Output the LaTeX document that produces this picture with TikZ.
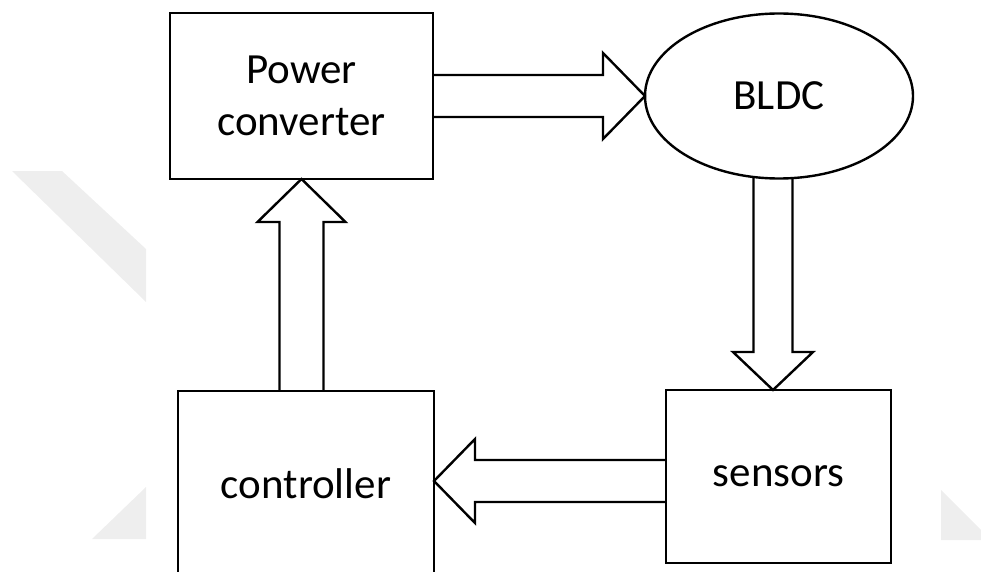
\documentclass[tikz,border=0pt]{standalone}
\usepackage{fontspec}
\setmainfont{Carlito}
\usetikzlibrary{shapes.geometric,calc}
\definecolor{wmgray}{HTML}{EEEEEE}
\begin{document}
\begin{tikzpicture}[x=1pt,y=-1pt,
  lbl/.style={font=\fontsize{43}{52}\selectfont},
  box/.style={draw,line width=2.6pt,rectangle,inner sep=0pt,outer sep=0pt,align=center,lbl},
  oval/.style={draw,line width=2.4pt,ellipse,inner sep=0pt,outer sep=0pt,lbl},
  blockarrow/.style={draw,line width=2.4pt,line join=miter},
  wm/.style={fill=wmgray,draw=none}]
\useasboundingbox (0,0) rectangle (981,572);
\clip (0,0) rectangle (981,572);
% faint watermark
\fill[wm] (12,171) -- (62,171) -- (146,249) -- (146,302) -- cycle;
\fill[wm] (92,539) -- (146,487) -- (146,539) -- cycle;
\fill[wm] (941,490) -- (981,530) -- (981,540) -- (941,540) -- cycle;
% nodes
\node[box,minimum width=263pt,minimum height=166pt] (pc) at (301.5,96) {Power\\converter};
\node[oval,minimum width=268pt,minimum height=165pt] (bldc) at (779,96) {BLDC};
\node[box,minimum width=256pt,minimum height=186pt] (ctrl) at (306,484) {controller};
\node[box,minimum width=225pt,minimum height=173pt] (sens) at (778.5,476.5) {sensors};
% power converter -> BLDC
\draw[blockarrow] ($(pc.east)+(0,-21)$) -- ($(bldc.west)+(-42,-21)$) -- ($(bldc.west)+(-42,-43)$)
  -- (bldc.west) -- ($(bldc.west)+(-42,43)$) -- ($(bldc.west)+(-42,21)$) -- ($(pc.east)+(0,21)$);
% BLDC -> sensors
\coordinate (dtip) at ($(sens.north)+(-5.5,0)$);
\coordinate (dtop) at ($(bldc.south -| dtip)+(0,-1)$);
\draw[blockarrow] ($(dtop)+(-19.5,0)$) -- ($(dtip)+(-19.5,-38)$) -- ($(dtip)+(-40,-38)$)
  -- (dtip) -- ($(dtip)+(40,-38)$) -- ($(dtip)+(19.5,-38)$) -- ($(dtop)+(19.5,0)$);
% sensors -> controller
\coordinate (ltip) at ($(ctrl.east)+(0,-3)$);
\draw[blockarrow] ($(sens.west |- ltip)+(0,-21)$) -- ($(ltip)+(41,-21)$) -- ($(ltip)+(41,-42)$)
  -- (ltip) -- ($(ltip)+(41,42)$) -- ($(ltip)+(41,21)$) -- ($(sens.west |- ltip)+(0,21)$);
% controller -> power converter
\coordinate (utip) at (pc.south);
\draw[blockarrow] ($(ctrl.north -| utip)+(-22,0)$) -- ($(utip)+(-22,43)$) -- ($(utip)+(-44,43)$)
  -- (utip) -- ($(utip)+(44,43)$) -- ($(utip)+(22,43)$) -- ($(ctrl.north -| utip)+(22,0)$);
\end{tikzpicture}
\end{document}
